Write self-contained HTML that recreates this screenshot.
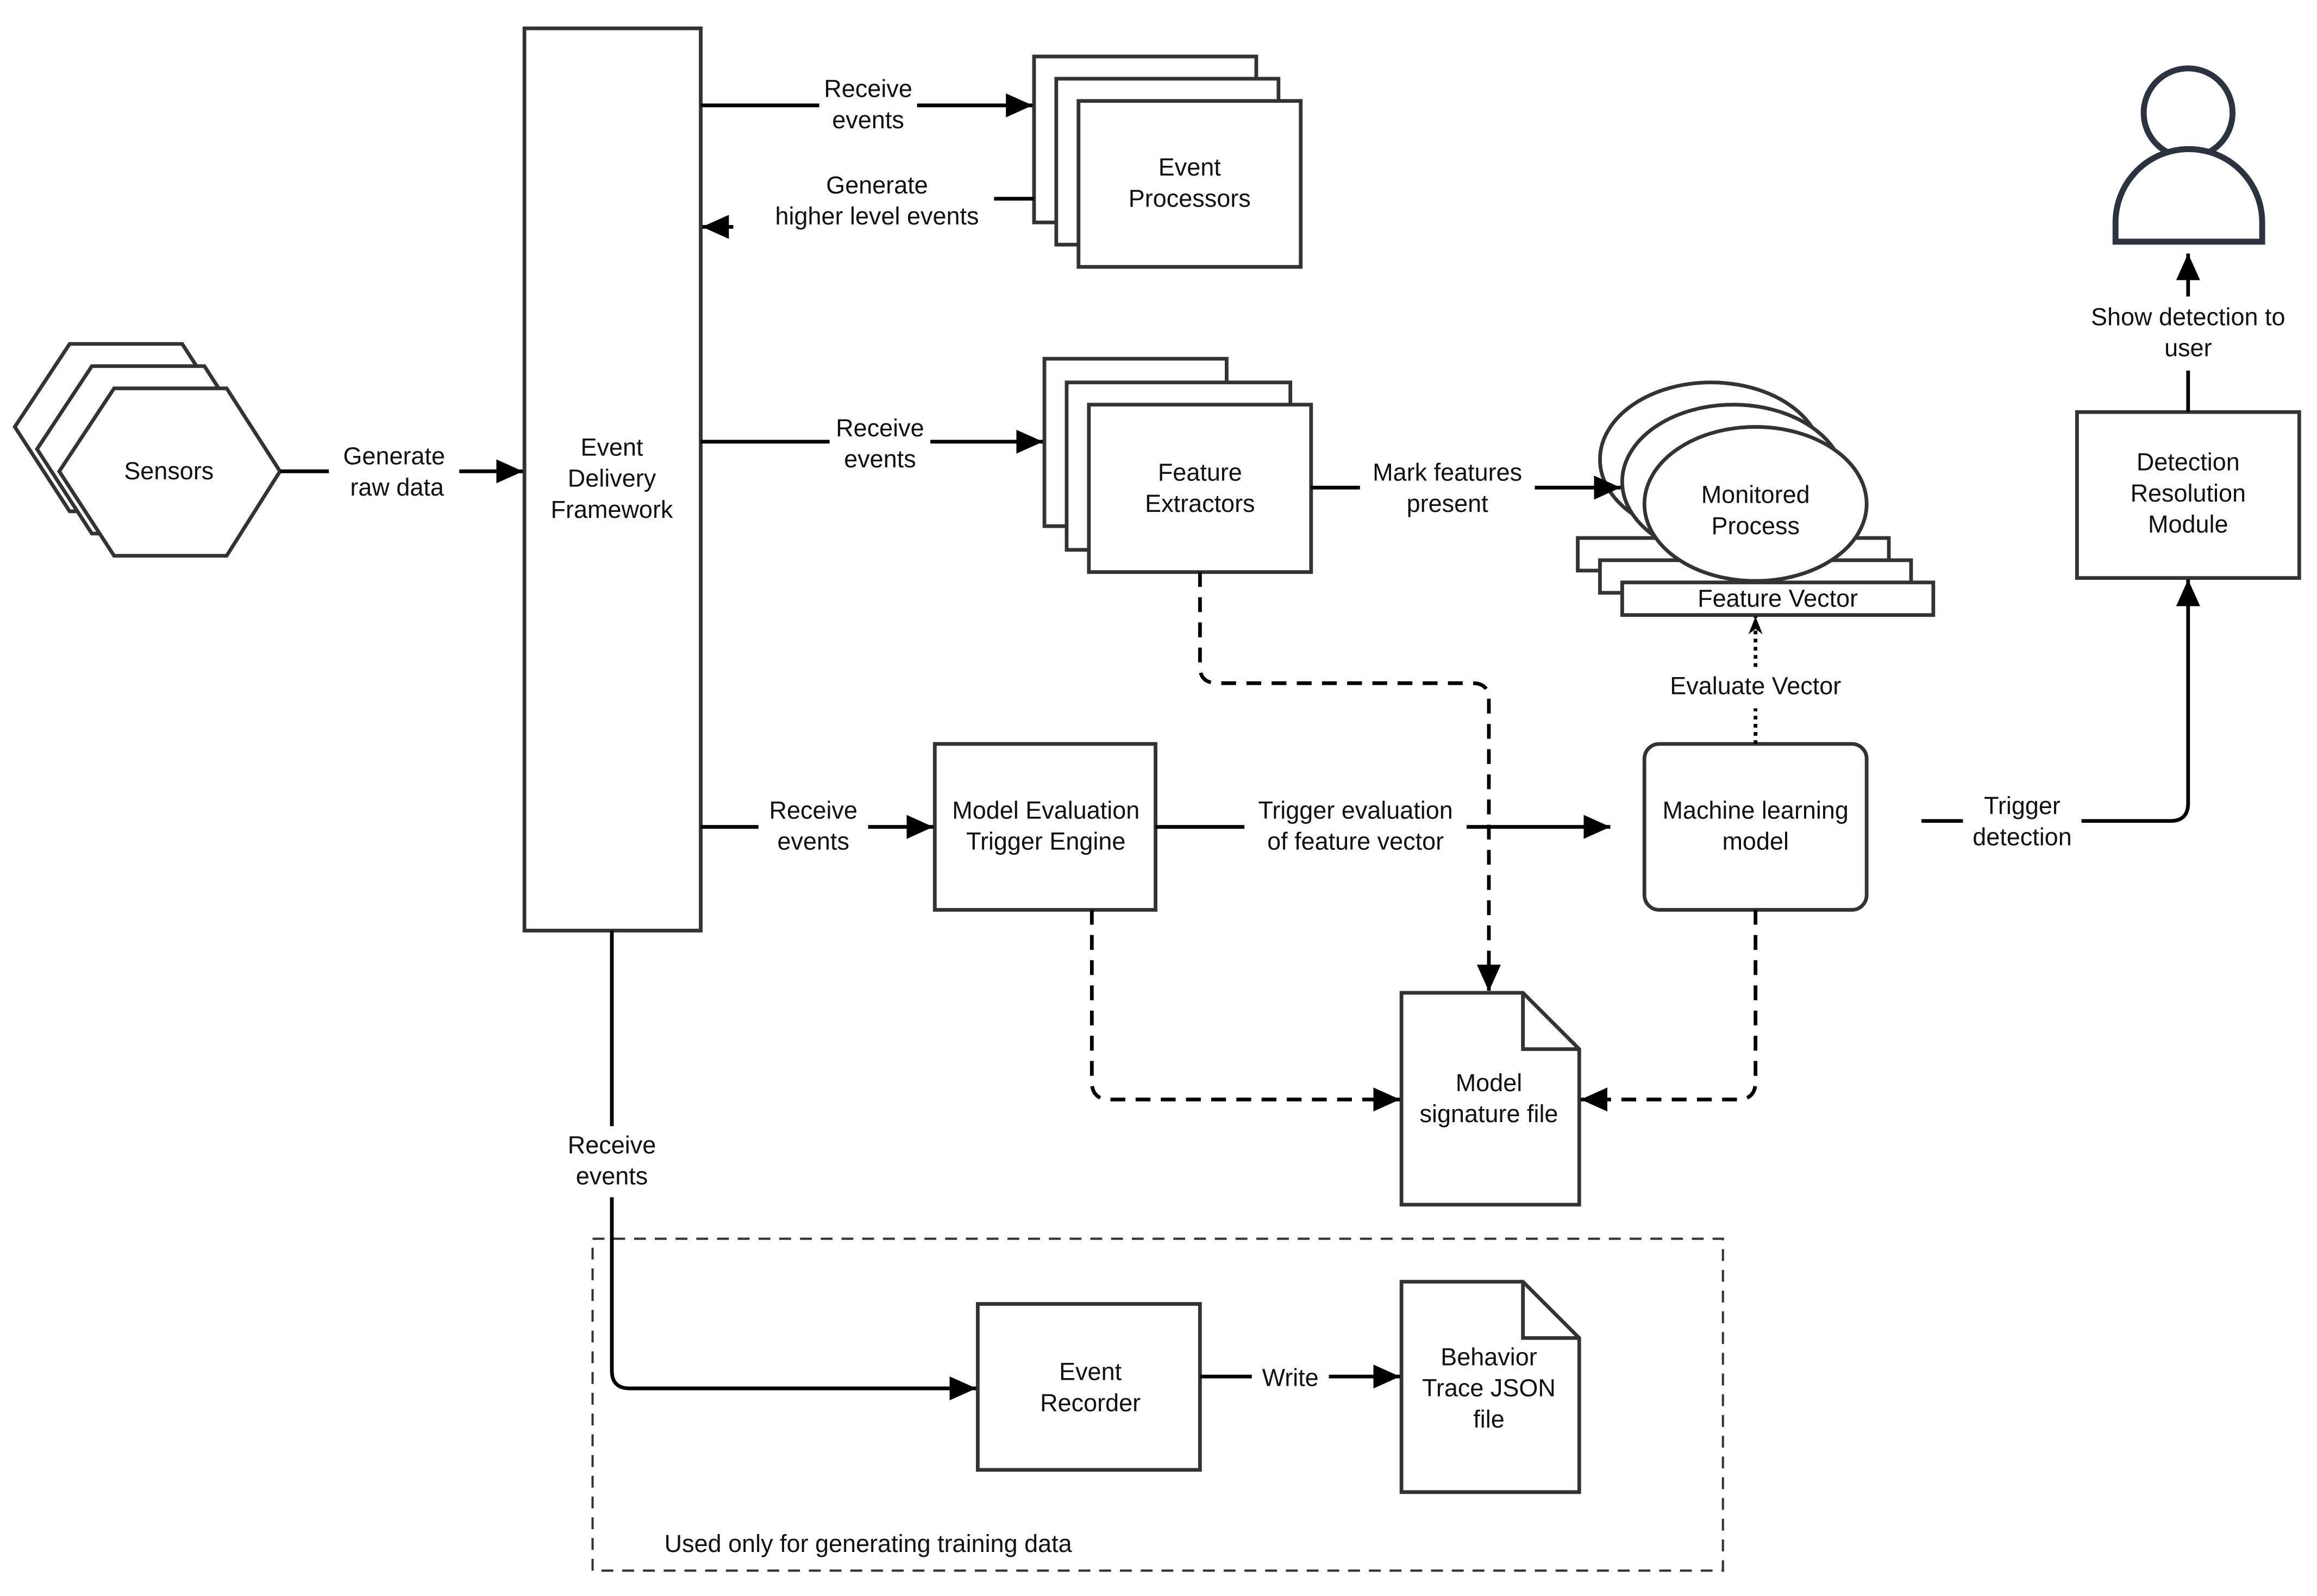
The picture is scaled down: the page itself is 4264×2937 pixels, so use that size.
<!DOCTYPE html>
<html><head><meta charset="utf-8"><style>
html,body{margin:0;padding:0;background:#fff;}
svg{display:block;}
text{font-family:"Liberation Sans",Arial,sans-serif;font-size:16.5px;fill:#111;text-anchor:middle;dominant-baseline:middle;}
</style></head><body>
<svg width="4264" height="2937" viewBox="0 0 1564 1077" xmlns="http://www.w3.org/2000/svg">
<defs>
<marker id="a" viewBox="0 0 10 10" refX="10" refY="5" markerWidth="7" markerHeight="7" markerUnits="userSpaceOnUse" orient="auto" style="overflow:visible">
<path d="M0,0 L10,5 L0,10 Z" fill="#000" transform="scale(1)"/></marker>
<marker id="b" viewBox="0 0 10 10" refX="10" refY="5" markerWidth="18" markerHeight="18" markerUnits="userSpaceOnUse" orient="auto"><path d="M0,0.5 L10,5 L0,9.5 Z" fill="#000"/></marker>
<marker id="c" viewBox="0 0 10 10" refX="10" refY="5" markerWidth="12" markerHeight="12" markerUnits="userSpaceOnUse" orient="auto"><path d="M0,1 L10,5 L0,9 L3,5 Z" fill="#000"/></marker>
</defs>
<g fill="#fff" stroke="#333" stroke-width="2.5">
<!-- EDF -->
<rect x="354" y="19" width="119" height="609"/>
<!-- Event processors -->
<rect x="698" y="38" width="150" height="112"/>
<rect x="713" y="53" width="150" height="112"/>
<rect x="728" y="68" width="150" height="112"/>
<!-- Sensors -->
<polygon points="10,288 47,232 123,232 159,288 123,345 47,345"/>
<polygon points="25,303 62,247 138,247 174,303 138,360 62,360"/>
<polygon points="40,318 77,262 153,262 189,318 153,375 77,375"/>
<!-- Feature extractors -->
<rect x="705" y="242" width="123" height="113"/>
<rect x="720" y="258" width="151" height="113"/>
<rect x="735" y="273" width="150" height="113"/>
<!-- Feature vector -->
<rect x="1065" y="363" width="210" height="22"/>
<rect x="1080" y="378" width="210" height="22"/>
<rect x="1095" y="393" width="210" height="22"/>
<ellipse cx="1155" cy="310" rx="75" ry="52"/>
<ellipse cx="1170" cy="325" rx="75" ry="52"/>
<ellipse cx="1185" cy="340" rx="75" ry="52"/>
<!-- ML -->
<rect x="1110" y="502" width="150" height="112" rx="10"/>
<rect x="631" y="502" width="149" height="112"/>
<rect x="1402" y="278" width="150" height="112"/>
<rect x="660" y="880" width="150" height="112"/>
<!-- docs -->
<path d="M946,670 H1028 L1066,708 V813 H946 Z"/>
<path d="M1028,670 V708 H1066" fill="none"/>
<path d="M946,865 H1028 L1066,903 V1007 H946 Z"/>
<path d="M1028,865 V903 H1066" fill="none"/>
<!-- user -->
<circle cx="1477" cy="76" r="30" stroke="#2b3340" stroke-width="4"/>
<path d="M1428,163 V150 A49,49 0 0 1 1527,150 V163 Z" stroke="#2b3340" stroke-width="4"/>
</g>
<rect x="400" y="836" width="763" height="224" fill="none" stroke="#333" stroke-width="1.5" stroke-dasharray="8,6"/>
<g fill="none" stroke="#000" stroke-width="2.5">
<path d="M473,71 H553 M619,71 H697" marker-end="url(#b)"/>
<path d="M698,134 H671"/>
<path d="M495,153 H474" marker-end="url(#b)"/>
<path d="M189,318 H222 M310,318 H353" marker-end="url(#b)"/>
<path d="M473,298 H560 M628,298 H704" marker-end="url(#b)"/>
<path d="M885,329 H918 M1036,329 H1094" marker-end="url(#b)"/>
<path d="M473,558 H512 M586,558 H630" marker-end="url(#b)"/>
<path d="M780,558 H840 M990,558 H1087" marker-end="url(#b)"/>
<path d="M1297,554 H1325 M1405,554 H1465 Q1477,554 1477,542 V391" marker-end="url(#b)"/>
<path d="M1477,278 V250 M1477,200 V171" marker-end="url(#b)"/>
<path d="M413,628 V760 M413,808 V925 Q413,937 425,937 H659" marker-end="url(#b)"/>
<path d="M810,929 H845 M897,929 H945" marker-end="url(#b)"/>
<path d="M1185,502 V478 M1185,450 V416" stroke-dasharray="2.5,3" marker-end="url(#c)"/>
<g stroke-dasharray="10,7">
<path d="M810,386 V450 Q810,461 822,461 H994 Q1005,461 1005,472 V669" marker-end="url(#b)"/>
<path d="M737,614 V730 Q737,742 749,742 H945" marker-end="url(#b)"/>
<path d="M1185,614 V730 Q1185,742 1173,742 H1067" marker-end="url(#b)"/>
</g>
</g>
<g>
<text x="413" y="303">Event</text><text x="413" y="324">Delivery</text><text x="413" y="345">Framework</text>
<text x="803" y="114">Event</text><text x="803" y="135">Processors</text>
<text x="586" y="61">Receive</text><text x="586" y="82">events</text>
<text x="592" y="126">Generate</text><text x="592" y="147">higher level events</text>
<text x="114" y="319">Sensors</text>
<text x="266" y="309">Generate</text><text x="268" y="330">raw data</text>
<text x="810" y="320">Feature</text><text x="810" y="341">Extractors</text>
<text x="594" y="290">Receive</text><text x="594" y="311">events</text>
<text x="977" y="320">Mark features</text><text x="977" y="341">present</text>
<text x="1185" y="335">Monitored</text><text x="1185" y="356">Process</text>
<text x="1200" y="405">Feature Vector</text>
<text x="1185" y="464">Evaluate Vector</text>
<text x="1185" y="548">Machine learning</text><text x="1185" y="569">model</text>
<text x="706" y="548">Model Evaluation</text><text x="706" y="569">Trigger Engine</text>
<text x="549" y="548">Receive</text><text x="549" y="569">events</text>
<text x="915" y="548">Trigger evaluation</text><text x="915" y="569">of feature vector</text>
<text x="1365" y="545">Trigger</text><text x="1365" y="566">detection</text>
<text x="1477" y="313">Detection</text><text x="1477" y="334">Resolution</text><text x="1477" y="355">Module</text>
<text x="1477" y="215">Show detection to</text><text x="1477" y="236">user</text>
<text x="1005" y="732">Model</text><text x="1005" y="753">signature file</text>
<text x="413" y="774">Receive</text><text x="413" y="795">events</text>
<text x="736" y="927">Event</text><text x="736" y="948">Recorder</text>
<text x="871" y="931">Write</text>
<text x="1005" y="917">Behavior</text><text x="1005" y="938">Trace JSON</text><text x="1005" y="959">file</text>
<text x="586" y="1043">Used only for generating training data</text>
</g>
</svg>
</body></html>
